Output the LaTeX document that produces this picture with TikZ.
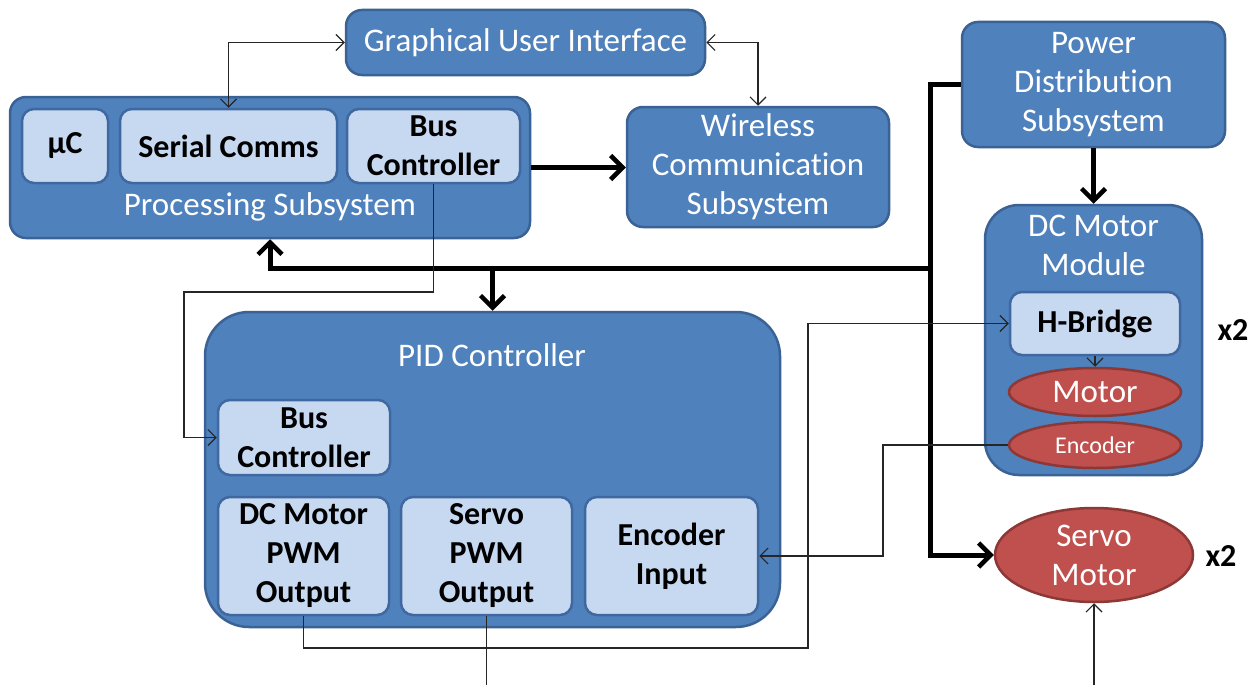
\documentclass[tikz,border=0pt]{standalone}
\usepackage{fontspec}
\setmainfont{Carlito}[Ligatures=NoCommon]
\usetikzlibrary{arrows.meta,shapes.geometric}
\definecolor{midblue}{HTML}{4F81BD}
\definecolor{bordblue}{HTML}{3A6294}
\definecolor{lightblue}{HTML}{C6D9F1}
\definecolor{innerbord}{HTML}{4068A0}
\definecolor{redfill}{HTML}{C0504D}
\definecolor{redbord}{HTML}{8C3836}
\newcommand\whitefont{\fontsize{33}{39}\selectfont}
\newcommand\boldfont{\fontsize{32}{39}\selectfont\bfseries}
\newcommand\smallfont{\fontsize{24}{28}\selectfont}
\tikzset{
  outerbox/.style={draw=bordblue, fill=midblue, line width=2.5pt, rounded corners=16pt,
    text=white, font=\whitefont, align=center, inner sep=0pt},
  innerbox/.style={draw=innerbord, fill=lightblue, line width=2.5pt, rounded corners=12pt,
    text=black, font=\boldfont, align=center, inner sep=0pt},
  redell/.style={ellipse, draw=redbord, fill=redfill, line width=2.5pt, text=white,
    font=\whitefont, align=center, inner sep=0pt},
  boxlabel/.style={text=white, font=\whitefont, align=center, inner sep=0pt},
  thinline/.style={line width=1.2pt, draw=black!85},
  thickline/.style={line width=5pt, draw=black},
  thintip/.style={-{Straight Barb[length=8pt,width=16pt,line width=1.2pt]}},
  thinboth/.style={{Straight Barb[length=8pt,width=16pt,line width=1.2pt]}-{Straight Barb[length=8pt,width=16pt,line width=1.2pt]}},
  thicktip/.style={-{Straight Barb[length=12pt,width=24pt,line width=4.5pt]}},
}
\begin{document}
\begin{tikzpicture}[x=1pt,y=-1pt]
\useasboundingbox (0,0) rectangle (1260,685);

% top row
\node[outerbox, minimum width=359, minimum height=65] (gui) at (525.5,42.5) {Graphical User Interface};

\node[outerbox, minimum width=520, minimum height=141] (proc) at (270,167.5) {};
\node[boxlabel] (proclabel) at (270,207) {Processing Subsystem};
\node[innerbox, minimum width=86, minimum height=74] (uc) at (65,146) {µC};
\node[innerbox, minimum width=217, minimum height=74] (serial) at (228.5,146) {Serial Comms};
\node[innerbox, minimum width=173, minimum height=74] (bustop) at (433.5,146) {Bus\\Controller};

\node[outerbox, minimum width=262, minimum height=120] (wireless) at (758,167) {Wireless\\Communication\\Subsystem};

\node[outerbox, minimum width=263, minimum height=125] (power) at (1093.5,84.5) {Power\\Distribution\\Subsystem};

% DC motor module
\node[outerbox, rounded corners=34pt, minimum width=217, minimum height=270] (dcmod) at (1093.5,340) {};
\node[boxlabel] (dclabel) at (1093.5,245) {DC Motor\\Module};
\node[innerbox, minimum width=170, minimum height=63] (hbridge) at (1095,323.5) {H-Bridge};
\node[redell, minimum width=172, minimum height=48] (motor) at (1095,392) {Motor};
\node[redell, minimum width=172, minimum height=46, font=\smallfont] (encoder) at (1095,445) {Encoder};
\node[font=\boldfont, inner sep=0pt] (xa) at (1233,330) {x2};

% servo motor
\node[redell, minimum width=198, minimum height=94] (servo) at (1094,555) {Servo\\Motor};
\node[font=\boldfont, inner sep=0pt] (xb) at (1221,556) {x2};

% PID controller
\node[outerbox, rounded corners=44pt, minimum width=575, minimum height=315] (pid) at (492.5,469.5) {};
\node[boxlabel] (pidlabel) at (492,355) {PID Controller};
\node[innerbox, minimum width=172, minimum height=75] (buspid) at (304,437.5) {Bus\\Controller};
\node[innerbox, minimum width=171, minimum height=118] (dcpwm) at (303.5,556) {DC Motor\\PWM\\Output};
\node[innerbox, minimum width=171, minimum height=118] (servopwm) at (486.5,556) {Servo\\PWM\\Output};
\node[innerbox, minimum width=173, minimum height=118] (encin) at (671.5,556) {Encoder\\Input};

% routing points
\coordinate (busR) at (930,268);
\coordinate (bc1) at (184,292);
\coordinate (pw1) at (808,648);
\coordinate (en1) at (883,556);
\coordinate (offA) at (488,685);
\coordinate (offB) at (1094,685);

% power and data buses
\draw[thickline, thicktip] (proc.east) -- (proc.east -| wireless.west);
\draw[thickline, thicktip] (power.south) -- (dcmod.north);
\draw[thickline, thicktip] (power.west) -| (busR) |- (servo.west);
\draw[thickline, thicktip] (busR) -| (proc.south);
\draw[thickline, thicktip] (pid.north |- busR) -- (pid.north);

% signal lines
\draw[thinline, thinboth] (gui.west) -| (serial.north);
\draw[thinline, thinboth] (gui.east) -| (wireless.north);
\draw[thinline, thintip] (bustop.south) |- (bc1) |- (buspid.west);
\draw[thinline, thintip] (dcpwm.south) |- (pw1) |- (hbridge.west);
\draw[thinline, thintip] (encoder.west) -| (en1) |- (encin.east);
\draw[thinline, thintip] (hbridge.south) -- (motor.north);
\draw[thinline] (servopwm.south) -- (servopwm.south |- offA);
\draw[thinline, thintip] (offB) -- (servo.south);
\end{tikzpicture}
\end{document}
